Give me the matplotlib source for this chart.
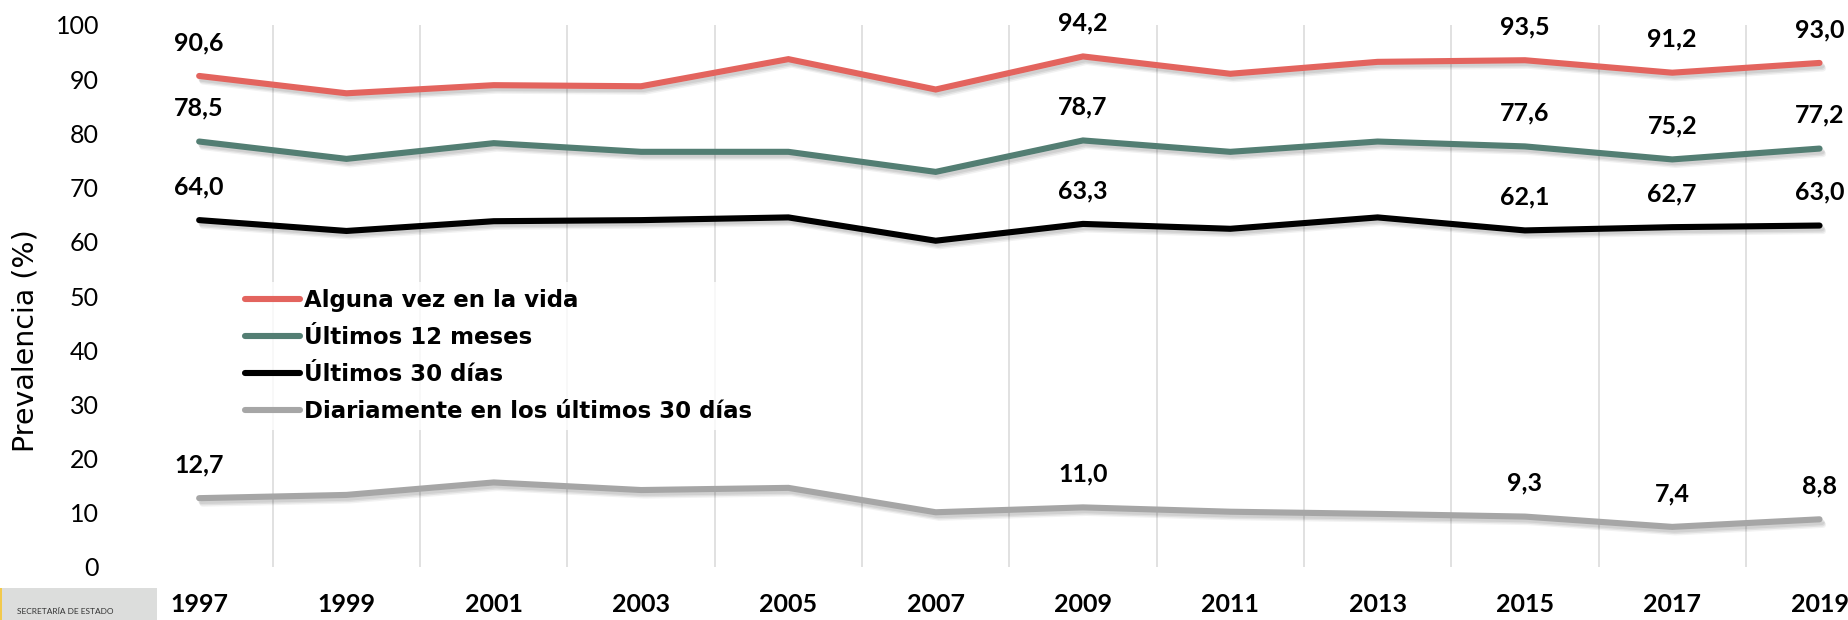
import matplotlib.pyplot as plt
import matplotlib.patheffects as pe
from matplotlib.patches import Rectangle

plt.rcParams['font.family'] = ['Lato', 'DejaVu Sans']

# Datos (prevalencia, %)
anios = ['1997', '1999', '2001', '2003', '2005', '2007', '2009', '2011', '2013', '2015', '2017', '2019']
alguna_vez = [90.6, 87.4, 88.9, 88.7, 93.7, 88.1, 94.2, 91.0, 93.2, 93.5, 91.2, 93.0]
ultimos_12m = [78.5, 75.3, 78.2, 76.6, 76.6, 72.9, 78.7, 76.6, 78.5, 77.6, 75.2, 77.2]
ultimos_30d = [64.0, 62.0, 63.8, 64.0, 64.5, 60.2, 63.3, 62.4, 64.5, 62.1, 62.7, 63.0]
diario_30d = [12.7, 13.3, 15.6, 14.2, 14.6, 10.1, 11.0, 10.2, 9.8, 9.3, 7.4, 8.8]
series_nombres = ['Alguna vez en la vida', 'Últimos 12 meses', 'Últimos 30 días',
                  'Diariamente en los últimos 30 días']
etiquetas_anios = ['1997', '2009', '2015', '2017', '2019']

colores = ['#E3645E', '#537E73', '#000000', '#A6A6A6']
series = [alguna_vez, ultimos_12m, ultimos_30d, diario_30d]

fig = plt.figure(figsize=(18.49, 6.20), dpi=100)
ax = fig.add_axes([125.5 / 1849, 53 / 620, 1 - 125.5 / 1849, 542 / 620])

x = list(range(len(anios)))
# sombra suave bajo las lineas
sombra = [pe.SimpleLineShadow(offset=(1.5, -2), shadow_color='black', alpha=0.07),
          pe.SimpleLineShadow(offset=(2, -3), shadow_color='black', alpha=0.07),
          pe.SimpleLineShadow(offset=(2.5, -4), shadow_color='black', alpha=0.05),
          pe.Normal()]

for vals, col, nombre in zip(series, colores, series_nombres):
    ax.plot(x, vals, color=col, lw=4.4, solid_capstyle='round',
            solid_joinstyle='miter', label=nombre, path_effects=sombra, zorder=3)
    for i, v in enumerate(vals):
        if anios[i] in etiquetas_anios:
            ax.annotate(f'{v:.1f}'.replace('.', ','), (i, v), xytext=(0, 24),
                        textcoords='offset points', ha='center', va='center',
                        fontsize=18, fontweight='bold', color='black')

# lineas verticales entre categorias
for k in range(len(anios)):
    ax.axvline(k - 0.5, color='#d9d9d9', lw=1.1, zorder=0)

ax.set_xlim(-0.5, 11.2)
ax.set_ylim(0, 100)
ax.set_xticks(x)
ax.set_xticklabels(anios, fontsize=18, fontweight='bold')
ax.set_yticks(range(0, 101, 10))
ax.tick_params(axis='y', length=0, pad=19, labelsize=18)
ax.tick_params(axis='x', length=0, pad=19)
for s in ax.spines.values():
    s.set_visible(False)

fig.text(0.014, 0.45, 'Prevalencia (%)', rotation=90, ha='center', va='center',
         fontsize=20.5, family='DejaVu Sans')

leg = ax.legend(loc='upper left', bbox_to_anchor=(238 / 1849, 1 - 282 / 620),
                bbox_transform=fig.transFigure, frameon=True, fancybox=False,
                borderaxespad=0, borderpad=0.3, handlelength=2.4, handletextpad=0.2,
                labelspacing=0.62,
                prop={'family': 'DejaVu Sans', 'weight': 'bold', 'size': 16.5})
leg.get_frame().set_facecolor('white')
leg.get_frame().set_edgecolor('none')
for h in leg.get_lines():
    h.set_path_effects([])
    h.set_linewidth(4.4)
    h.set_solid_capstyle('round')

# logo
fig.patches.append(Rectangle((0, 0), 157 / 1849, 32 / 620, transform=fig.transFigure,
                             facecolor='#dcdddc', edgecolor='none'))
fig.patches.append(Rectangle((0, 0), 2 / 1849, 32 / 620, transform=fig.transFigure,
                             facecolor='#f2c94c', edgecolor='none'))
fig.text(17 / 1849, 1 - 612 / 620, 'SECRETARÍA DE ESTADO', fontsize=6, color='#333333',
         ha='left', va='center')

fig.savefig('out.png', dpi=100)
